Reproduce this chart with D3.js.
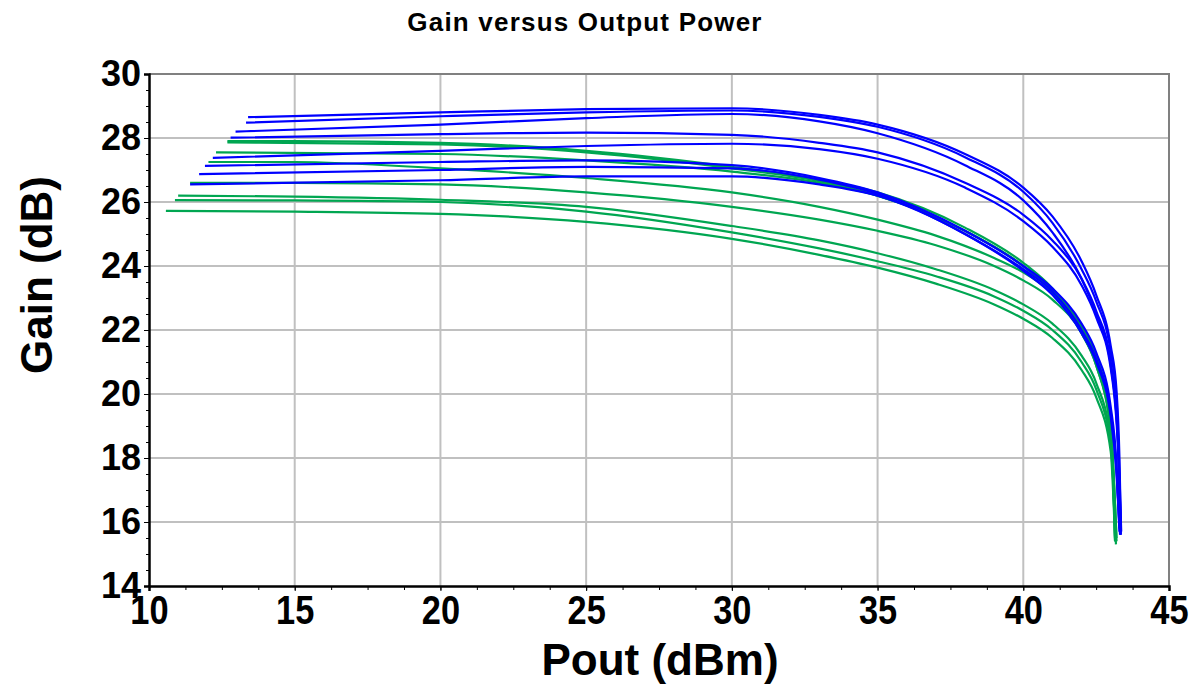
<!DOCTYPE html>
<html><head><meta charset="utf-8">
<script src="https://cdn.jsdelivr.net/npm/d3@7"></script>
<style>body{margin:0;background:#fff}svg{display:block}text{font-family:"Liberation Sans",Arial,sans-serif;font-weight:bold}</style>
</head><body><svg id="c" width="1200" height="688"></svg>
<script>
const xTicks=[10,15,20,25,30,35,40,45];
const yTicks=[14,16,18,20,22,24,26,28,30];
const blueCurves=[
[[13.4,28.65],[20,28.8],[25,28.9],[30,28.93],[33,28.72],[35,28.42],[38,27.5],[40,26.45],[41,25.55],[42,24.15],[42.5,23.1],[43,21.5],[43.2,20.1],[43.3,18.0],[43.35,15.8]],
[[13.33,28.48],[20,28.68],[25,28.8],[30,28.86],[33,28.66],[35,28.35],[38,27.4],[40,26.32],[41,25.35],[42,23.9],[42.5,22.9],[43,21.3],[43.2,19.8],[43.3,17.5],[43.36,15.7]],
[[12.97,28.2],[20,28.42],[25,28.62],[30,28.75],[33,28.52],[35,28.15],[38,27.15],[40,26.05],[41,25.05],[42,23.6],[42.5,22.5],[43,20.9],[43.25,18.5],[43.35,15.6]],
[[12.8,28.01],[20,28.12],[25,28.17],[30,28.1],[33,27.85],[35,27.55],[38,26.6],[40,25.6],[41,24.8],[42,23.6],[42.5,22.6],[43,21.0],[43.25,18.5],[43.35,15.7]],
[[12.19,27.38],[20,27.6],[25,27.75],[30,27.82],[33,27.65],[35,27.35],[38,26.45],[40,25.4],[41,24.6],[42,23.4],[42.5,22.4],[43,20.8],[43.25,18.3],[43.33,15.6]],
[[11.92,27.13],[20,27.25],[25,27.3],[30,27.15],[33,26.75],[35,26.3],[38,25.1],[40,24.0],[41,23.3],[42,22.2],[42.5,21.3],[43,19.6],[43.2,17.8],[43.3,15.8]],
[[11.72,26.87],[20,27.0],[25,27.1],[30,27.05],[33,26.7],[35,26.25],[38,25.0],[40,23.9],[41,23.2],[42,22.0],[42.5,21.1],[43,19.4],[43.2,17.6],[43.3,15.7]],
[[11.41,26.55],[20,26.68],[25,26.8],[30,26.8],[33,26.55],[35,26.2],[38,25.0],[40,23.85],[41,23.1],[42,21.9],[42.5,21.0],[43,19.3],[43.2,17.5],[43.32,15.6]]
];
const greenCurves=[
[[12.69,27.9],[15,27.9],[20,27.85],[25,27.6],[30,27.1],[33,26.7],[35,26.3],[38,25.2],[40,24.1],[41,23.3],[42,22.1],[42.5,21.2],[43,19.2],[43.15,15.4]],
[[12.69,27.86],[20,27.8],[25,27.55],[30,27.05],[33,26.65],[35,26.2],[38,25.1],[40,24.0],[41,23.2],[42,22.0],[42.5,21.0],[43,19.0],[43.15,15.4]],
[[12.3,27.55],[20,27.5],[25,27.3],[30,26.95],[33,26.6],[35,26.2],[38,25.1],[40,24.0],[41,23.2],[42,21.9],[42.5,20.9],[43,18.8],[43.15,15.5]],
[[12.04,27.25],[15,27.25],[20,27.05],[25,26.75],[30,26.3],[33,25.85],[35,25.45],[37,24.95],[39,24.25],[40,23.8],[41,23.15],[42,22.1],[42.5,21.1],[43,19.0],[43.2,15.5]],
[[11.41,26.6],[15,26.6],[20,26.55],[25,26.3],[30,25.85],[33,25.45],[35,25.1],[37,24.65],[39,24.0],[40,23.55],[41,22.95],[42,21.9],[42.5,20.9],[43,18.9],[43.2,15.4]],
[[11.0,26.2],[15,26.17],[20,26.07],[25,25.85],[30,25.25],[33,24.8],[35,24.4],[37,23.9],[39,23.25],[40,22.8],[41,22.2],[42,21.2],[42.5,20.35],[43,18.6],[43.18,15.4]],
[[10.89,26.06],[15,26.05],[20,26.0],[25,25.7],[30,25.05],[33,24.55],[35,24.15],[37,23.68],[39,23.05],[40,22.6],[41,22.0],[42,21.0],[42.5,20.15],[43,18.4],[43.18,15.3]],
[[10.58,25.72],[15,25.7],[20,25.63],[25,25.38],[30,24.85],[33,24.35],[35,23.95],[37,23.45],[39,22.8],[40,22.35],[41,21.75],[42,20.75],[42.5,19.9],[43,18.2],[43.15,15.4]]
];
const L=149,R=1169,T=74,B=586;
const svg=d3.select("#c");
const x=d3.scaleLinear().domain([10,45]).range([L,R]);
const y=d3.scaleLinear().domain([14,30]).range([B,T]);
// grid
svg.append("g").selectAll("line").data(xTicks.slice(1,-1)).join("line")
 .attr("x1",d=>x(d)).attr("x2",d=>x(d)).attr("y1",T).attr("y2",B).attr("stroke","#c0c0c0").attr("stroke-width",2);
svg.append("g").selectAll("line").data(yTicks.slice(1,-1)).join("line")
 .attr("y1",d=>y(d)).attr("y2",d=>y(d)).attr("x1",L).attr("x2",R).attr("stroke","#c0c0c0").attr("stroke-width",2);
// top/right frame
svg.append("path").attr("d",`M${L},${T}H${R}V${B}`).attr("fill","none").attr("stroke","#808080").attr("stroke-width",2);
// curves
const line=d3.line().x(d=>x(d[0])).y(d=>y(d[1])).curve(d3.curveMonotoneX);
svg.append("g").selectAll("path").data(greenCurves).join("path").attr("d",line).attr("fill","none").attr("stroke","#00a651").attr("stroke-width",2.2);
svg.append("g").selectAll("path").data(blueCurves).join("path").attr("d",line).attr("fill","none").attr("stroke","#0000ff").attr("stroke-width",2.2);
// axes
const xMinor=d3.range(10,45.01,1.25);
const xa=svg.append("g").attr("transform",`translate(0,${B})`)
 .call(d3.axisBottom(x).tickValues(xMinor).tickFormat("").tickSize(4));
xa.select(".domain").remove();
xa.selectAll("line").attr("stroke","#000");
const xb=svg.append("g").attr("transform",`translate(0,${B})`)
 .call(d3.axisBottom(x).tickValues(xTicks).tickFormat(d3.format("d")).tickSize(5).tickPadding(4));
xb.select(".domain").attr("stroke","#000").attr("stroke-width",2.5);
xb.selectAll(".tick text").attr("font-size",40).attr("fill","#000").attr("transform","scale(0.86,1)").attr("y",10);
const ym=svg.append("g").attr("transform",`translate(${L},0)`)
 .call(d3.axisLeft(y).tickValues(d3.range(14,30.01,0.5)).tickFormat("").tickSize(3));
ym.select(".domain").remove();
const ya=svg.append("g").attr("transform",`translate(${L},0)`)
 .call(d3.axisLeft(y).tickValues(yTicks).tickFormat(d3.format("d")).tickSize(5).tickPadding(3));
ya.select(".domain").attr("stroke","#000").attr("stroke-width",2.5);
ya.selectAll("text").attr("font-size",36).attr("fill","#000");
svg.selectAll(".tick text").style("font-family","'Liberation Sans',Arial,sans-serif").style("font-weight","bold");
// titles
svg.append("text").attr("x",585).attr("y",31).attr("text-anchor","middle").attr("font-size",26).attr("letter-spacing",1.2).text("Gain versus Output Power");
svg.append("text").attr("x",660).attr("y",675).attr("text-anchor","middle").attr("font-size",44).text("Pout (dBm)");
svg.append("text").attr("transform","translate(52,275) rotate(-90)").attr("text-anchor","middle").attr("font-size",44).text("Gain (dB)");
</script></body></html>
